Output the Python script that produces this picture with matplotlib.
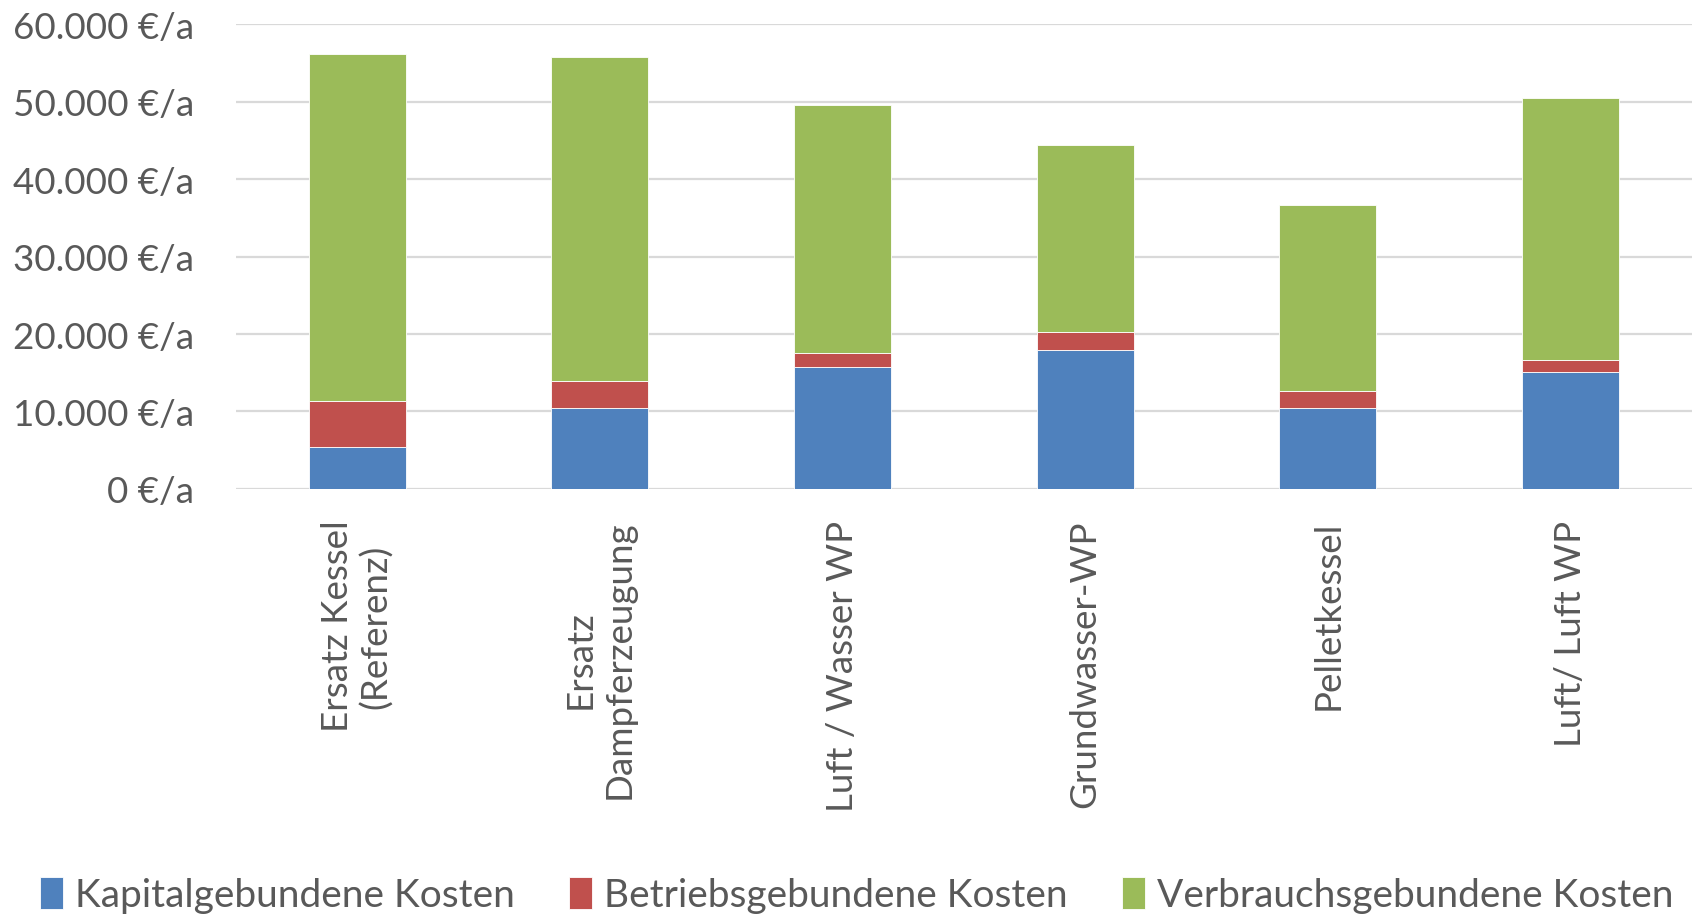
import matplotlib.pyplot as plt
import numpy as np
from matplotlib.ticker import FuncFormatter

plt.rcParams['font.family'] = ['Lato', 'DejaVu Sans']

kategorien = ["Ersatz Kessel\n(Referenz)", "Ersatz\nDampferzeugung", "Luft / Wasser WP",
              "Grundwasser-WP", "Pelletkessel", "Luft/ Luft WP"]
kapital = [5400, 10500, 15700, 18000, 10500, 15100]
betrieb = [6000, 3400, 1800, 2200, 2200, 1500]
verbrauch = [44700, 41900, 32000, 24200, 24000, 33900]
serien = ["Kapitalgebundene Kosten", "Betriebsgebundene Kosten", "Verbrauchsgebundene Kosten"]
farben = ["#4F81BD", "#C0504D", "#9BBB59"]
grau = "#595959"

fig = plt.figure(figsize=(16.96, 9.2), dpi=100)
ax = fig.add_axes([0.139, 0.4674, 0.8586, 0.5054])

x = np.arange(len(kategorien))
unten = np.zeros(len(kategorien))
for werte, name, farbe in zip([kapital, betrieb, verbrauch], serien, farben):
    ax.bar(x, werte, width=0.4, bottom=unten, color=farbe, label=name,
           edgecolor="white", linewidth=0.6, zorder=3)
    unten = unten + np.array(werte)

ax.set_xlim(-0.5, len(kategorien) - 0.5)
ax.set_ylim(0, 60000)
ax.set_yticks(np.arange(0, 60001, 10000))
ax.yaxis.set_major_formatter(FuncFormatter(lambda v, p: f"{int(v):,} €/a".replace(",", ".")))
ax.grid(axis="y", color="#d9d9d9", linewidth=1.6, zorder=0)
for s in ax.spines.values():
    s.set_visible(False)
ax.tick_params(axis="both", length=0, labelsize=26.5, labelcolor=grau)
ax.tick_params(axis="y", pad=30)
ax.tick_params(axis="x", pad=22)
ax.set_xticks(x)
ax.set_xticklabels(kategorien, rotation=90, va="top", ha="center", multialignment="center")

fig.legend(loc="lower center", bbox_to_anchor=(0.505, -0.032), ncol=3, frameon=False,
           fontsize=28, labelcolor=grau, handlelength=0.6, handleheight=0.9,
           handletextpad=0.3, columnspacing=1.4)

fig.savefig("out.png", dpi=100)
